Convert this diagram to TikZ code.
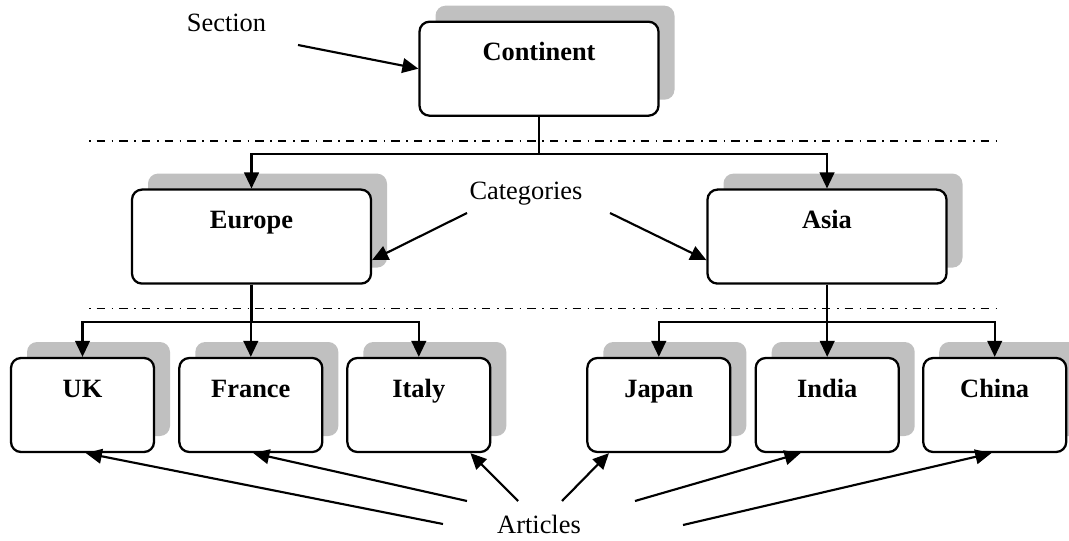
\documentclass[tikz,border=0pt]{standalone}
\usepackage{fontspec}
\setmainfont{Liberation Serif}
\usetikzlibrary{arrows.meta,shadows}
\definecolor{shade}{RGB}{192,192,192}

\begin{document}
\begin{tikzpicture}[x=0.75pt,y=-0.75pt,
        box/.style={draw,line width=1.7pt,rounded corners=7.5pt,fill=white,
            minimum height=70.5pt,inner sep=0pt,text height=29.25pt,text depth=41.25pt,
            font=\fontsize{19.8pt}{23pt}\selectfont\bfseries,
            drop shadow={shadow xshift=12pt,shadow yshift=12pt,fill=shade,opacity=1}},
        bigbox/.style={box,minimum width=179.25pt},
        smallbox/.style={box,minimum width=107.25pt},
        lbl/.style={font=\fontsize{19.8pt}{23pt}\selectfont,inner sep=0pt,anchor=base},
        arr/.style={line width=1.6pt,-{Triangle[length=12pt,width=11pt]}},
        sep/.style={line width=1pt,dash pattern=on 1.25pt off 4.5pt on 6.25pt off 5pt}]
        \useasboundingbox (0,0) rectangle (1069,541);

        % separators between the levels
        \draw[sep] (89,141) -- (997,141);
        \draw[sep] (89,308.5) -- (997,308.5);

        \node[bigbox] (continent) at (539,68.7) {Continent};
        \node[bigbox] (europe) at (251.5,236.6) {Europe};
        \node[bigbox] (asia) at (827,236.6) {Asia};
        \foreach \n/\x/\t in {uk/82.5/UK,france/250.8/France,italy/418.8/Italy,japan/658.8/Japan,india/827.2/India,china/994.7/China}{
            \node[smallbox] (\n) at (\x,405) {\t};
        }

        \foreach \a/\b in {continent/europe,continent/asia,europe/uk,europe/france,europe/italy,asia/japan,asia/india,asia/china}{
            \draw[arr] (\a.south) -- ++(0,37) -| (\b.north);
        }

        % labels and their pointers
        \node[lbl] (section) at (226.5,31.5) {Section};
        \node[lbl] (categories) at (526,200) {Categories};
        \node[lbl] (articles) at (539,533) {Articles};

        \coordinate (sec-tail) at (298,45);
        \coordinate (cat-l) at (467,213);
        \coordinate (cat-r) at (610,213);
        \coordinate (art-uk) at (443,524);
        \coordinate (art-fr) at (467,501);
        \coordinate (art-it) at (518,501);
        \coordinate (art-jp) at (562,501);
        \coordinate (art-in) at (635,501);
        \coordinate (art-cn) at (683,525);

        \foreach \a/\b in {sec-tail/continent.west,cat-l/europe.-11,cat-r/asia.-169,art-uk/uk.-86,art-fr/france.-87,art-it/italy.-43,art-jp/japan.-136,art-in/india.-119,art-cn/china.-94}{
            \draw[arr] (\a) -- (\b);
        }
\end{tikzpicture}
\end{document}
